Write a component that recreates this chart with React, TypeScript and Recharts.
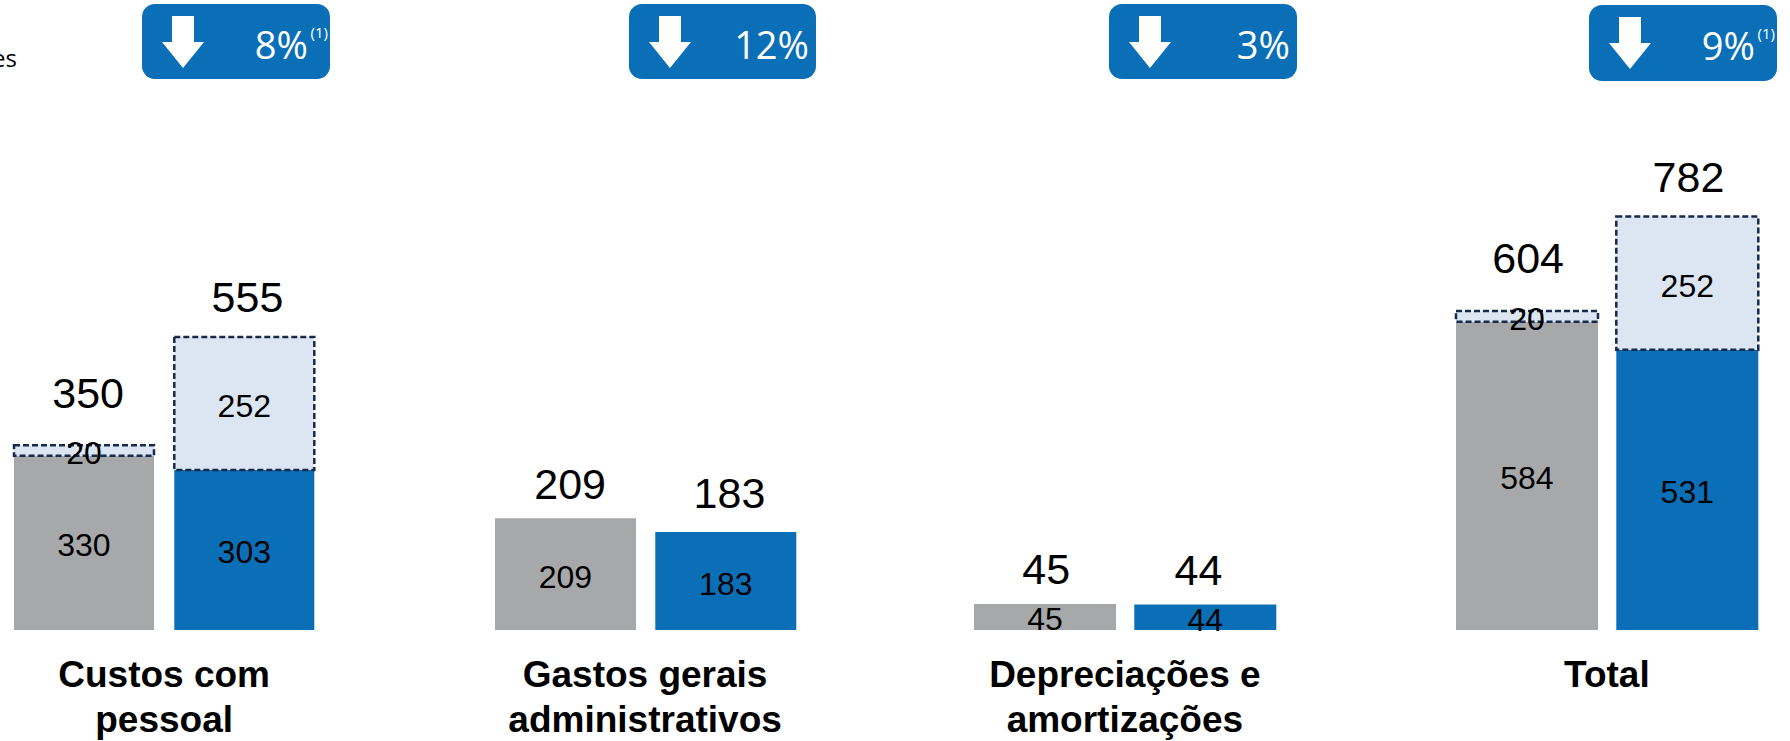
import { Bar, Cell, ComposedChart, LabelList, Line, XAxis, YAxis } from "recharts"

const groups = [
  ["Custos com", "pessoal"],
  ["Gastos gerais", "administrativos"],
  ["Depreciações e", "amortizações"],
  ["Total"],
]
const periods = ["anterior", "atual"]
const baseValues = [
  [330, 303],
  [209, 183],
  [45, 44],
  [584, 531],
]
const extraValues = [
  [20, 252],
  [null, null],
  [null, null],
  [20, 252],
]
const totals = [
  [350, 555],
  [209, 183],
  [45, 44],
  [604, 782],
]
const variations = ["8%", "12%", "3%", "9%"]
const footnotes = ["(1)", "", "", "(1)"]

const GREY = "#A7A8AA"
const BLUE = "#0B6FB8"
const periodColors = [GREY, BLUE]

// hand tuned layout per panel, each panel in the source has its own scale
const panelLeft = [3.85, 484.8, 964.6, 1446.6]
const panelMax = [1000, 987, 913, 1000]
const panelBarSize = [140, 141, 142, 142]
const badgeBoxes = [
  { left: 142, top: 4, width: 188, height: 75 },
  { left: 629, top: 4, width: 187, height: 75 },
  { left: 1109, top: 4, width: 188, height: 75 },
  { left: 1589, top: 5, width: 188, height: 76 },
]
const totalLift = [
  [37, 25],
  [19, 24],
  [20, 20],
  [38, 25],
]
const totalShift = [
  [4, 3],
  [5, 4],
  [1, -7],
  [1, 1],
]

const FONT = "'Liberation Sans', Arial, sans-serif"
const BADGE_FONT = "'Open Sans', sans-serif"

function InnerLabel({ x, y, width, height, value }: any) {
  if (value === null || value === undefined) return null
  return (
    <text x={x + width / 2} y={y + height / 2 + 13.5} textAnchor="middle" fontSize={32} fontFamily={FONT} fill="#000">
      {value}
    </text>
  )
}

function Panel({ index }: { index: number }) {
  const data = periods.map((period, i) => ({
    period,
    base: baseValues[index][i],
    extra: extraValues[index][i],
    total: totals[index][i],
  }))

  const renderTotal = ({ x, y, value, index: i }: any) => (
    <text
      x={x + totalShift[index][i]}
      y={y - totalLift[index][i]}
      textAnchor="middle"
      fontSize={43}
      fontFamily={FONT}
      fill="#000"
    >
      {value}
    </text>
  )

  return (
    <div style={{ position: "absolute", left: panelLeft[index], top: 0, width: 320.6 }}>
      <ComposedChart width={320.6} height={650} data={data} margin={{ top: 102, right: 0, bottom: 20, left: 0 }}>
        <XAxis dataKey="period" hide />
        <YAxis hide domain={[0, panelMax[index]]} />
        <Bar dataKey="base" stackId="a" barSize={panelBarSize[index]} isAnimationActive={false}>
          {data.map((d, i) => (
            <Cell key={d.period} fill={periodColors[i]} />
          ))}
          <LabelList dataKey="base" content={InnerLabel} />
        </Bar>
        <Bar
          dataKey="extra"
          stackId="a"
          barSize={panelBarSize[index]}
          fill="#DCE6F2"
          stroke="#17294D"
          strokeWidth={2.5}
          strokeDasharray="6 3"
          isAnimationActive={false}
        >
          <LabelList dataKey="extra" content={InnerLabel} />
        </Bar>
        <Line dataKey="total" stroke="none" dot={false} activeDot={false} isAnimationActive={false}>
          <LabelList dataKey="total" content={renderTotal} />
        </Line>
      </ComposedChart>
      <div
        style={{
          position: "absolute",
          left: 0,
          top: 652,
          width: 320.6,
          textAlign: "center",
          fontFamily: FONT,
          fontWeight: 700,
          fontSize: 37,
          lineHeight: "45px",
          color: "#000",
        }}
      >
        {groups[index].map((line) => (
          <div key={line}>{line}</div>
        ))}
      </div>
    </div>
  )
}

function Badge({ index }: { index: number }) {
  const box = badgeBoxes[index]
  return (
    <div style={{ position: "absolute", ...box, background: BLUE, borderRadius: 13, color: "#fff" }}>
      <svg width={60} height={70} style={{ position: "absolute", left: 15, top: 8 }}>
        <path d="M15 4 H37 V30 H47 L26 56 L5 30 H15 Z" fill="#fff" />
      </svg>
      <div
        style={{
          position: "absolute",
          right: footnotes[index] ? 22 : 7,
          top: 15,
          fontFamily: BADGE_FONT,
          fontSize: 38,
          lineHeight: "50px",
        }}
      >
        {variations[index]}
      </div>
      {footnotes[index] && (
        <div
          style={{
            position: "absolute",
            right: 2,
            top: 19,
            fontFamily: BADGE_FONT,
            fontSize: 15,
            lineHeight: "18px",
          }}
        >
          {footnotes[index]}
        </div>
      )}
    </div>
  )
}

export default function App() {
  return (
    <div style={{ position: "absolute", left: 0, top: 0, width: 1790, height: 741, overflow: "hidden", background: "#fff" }}>
      <div style={{ position: "absolute", left: -8, top: 44, fontFamily: BADGE_FONT, fontSize: 24, lineHeight: "28px", color: "#000" }}>
        es
      </div>
      {groups.map((_, i) => (
        <Panel key={i} index={i} />
      ))}
      {variations.map((_, i) => (
        <Badge key={i} index={i} />
      ))}
    </div>
  )
}
